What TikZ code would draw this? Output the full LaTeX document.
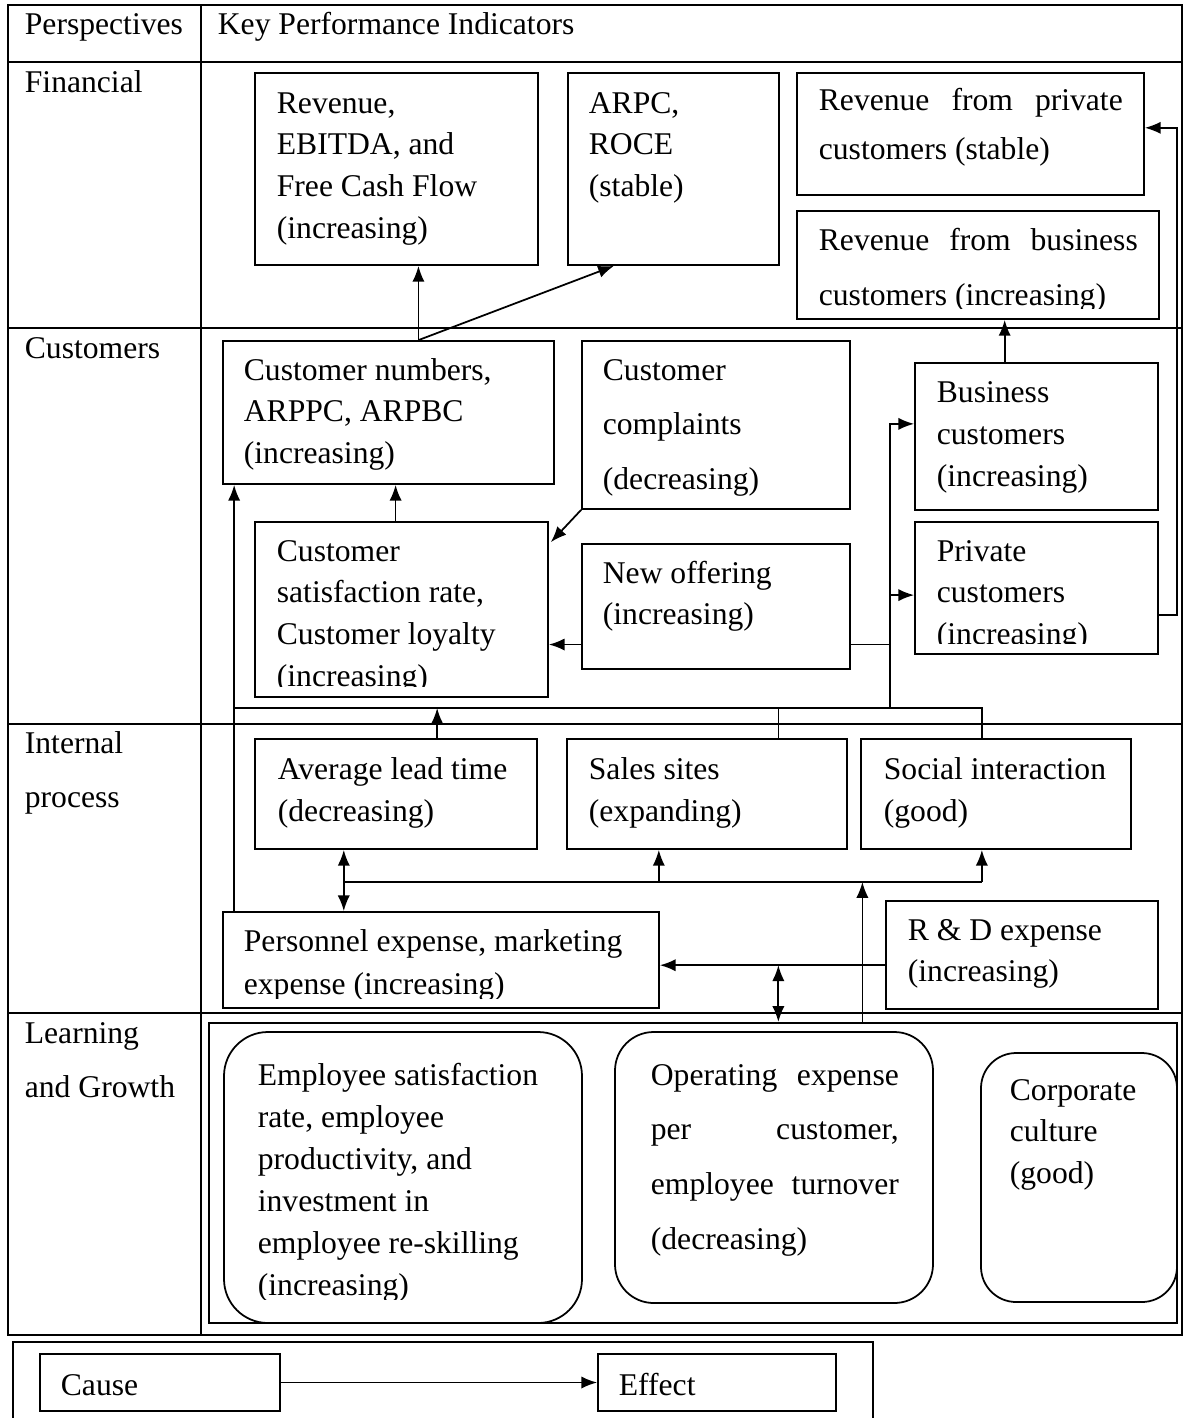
\documentclass[tikz,border=0pt]{standalone}
\usepackage{fontspec}
\setmainfont{Liberation Serif}
\usetikzlibrary{arrows.meta,positioning,calc,fit}

\newcommand{\jline}[1]{\makebox[\hsize][s]{#1}}

\begin{document}
\begin{tikzpicture}[x=0.02cm, y=-0.02cm, >={Latex[length=9pt,width=7pt]}, line width=1pt]
  % Styles
  \tikzset{
    grid/.style={line width=1.6pt},
    kbox/.style={draw, rectangle, inner sep=0pt, line width=1pt},
    rbox/.style={kbox, rounded corners=#1},
    kpi/.style={anchor=base west, inner sep=0pt, text width=8cm, align=flush left,
      font=\fontsize{18pt}{#1}\selectfont},
    kpi/.default=23.8pt
  }
  \useasboundingbox (0,0) rectangle (1185,1418);

  % Table
  \draw[grid] (8,5) rectangle (1182,1335);
  \draw[grid] (201,5) -- (201,1335);
  \foreach \y in {62,328,724,1013}
    \draw[grid] (8,\y) -- (1182,\y);

  % Headings
  \node[kpi] (h-persp) at (24,34) {Perspectives};
  \node[kpi] (h-kpi) at (217,34) {Key Performance Indicators};
  \node[kpi] (l-fin) at (24,92) {Financial};
  \node[kpi] (l-cus) at (24,358) {Customers};
  \node[kpi=31.2pt] (l-int) at (24,753) {Internal\\process};
  \node[kpi=31.2pt] (l-lrn) at (24,1043) {Learning\\and Growth};

  % Financial
  \node[kbox, fit={(255,73) (538,265)}] (rev) {};
  \node[kpi] (rev-t) at (276,113) {Revenue,\\EBITDA, and\\Free Cash Flow\\(increasing)};
  \node[kbox, fit={(568,73) (779,265)}] (arpc) {};
  \node[kpi] (arpc-t) at (588,113) {ARPC,\\ROCE\\(stable)};
  \node[kbox, fit={(797,73) (1144,195)}] (rpriv) {};
  \node[kpi=28.3pt, text width=6.08cm] (rpriv-t) at (818,110) {\jline{Revenue from private}\\customers (stable)};
  \node[kbox, fit={(797,211) (1159,319)}] (rbus) {};
  \begin{scope}
    \clip (0,0) rectangle (1185,308);
    \node[kpi=31.7pt, text width=6.38cm] (rbus-t) at (818,250) {\jline{Revenue from business}\\customers (increasing)};
  \end{scope}

  % Customers
  \node[kbox, fit={(223,341) (554,484)}] (cnum) {};
  \node[kpi] (cnum-t) at (243,380) {Customer numbers,\\ARPPC, ARPBC\\(increasing)};
  \node[kbox, fit={(582,341) (850,509)}] (comp) {};
  \node[kpi=31.2pt] (comp-t) at (602,380) {Customer\\complaints\\(decreasing)};
  \node[kbox, fit={(915,363) (1158,510)}] (bcus) {};
  \node[kpi=24.1pt] (bcus-t) at (936,402) {Business\\customers\\(increasing)};
  \node[kbox, fit={(255,522) (548,697)}] (sat) {};
  \begin{scope}
    \clip (0,0) rectangle (1185,686);
    \node[kpi] (sat-t) at (276,561) {Customer\\satisfaction rate,\\Customer loyalty\\(increasing)};
  \end{scope}
  \node[kbox, fit={(582,544) (850,669)}] (newoff) {};
  \node[kpi] (newoff-t) at (602,583) {New offering\\(increasing)};
  \node[kbox, fit={(915,522) (1158,654)}] (pcus) {};
  \begin{scope}
    \clip (0,0) rectangle (1185,643);
    \node[kpi] (pcus-t) at (936,561) {Private\\customers\\(increasing)};
  \end{scope}

  % Internal process
  \node[kbox, fit={(255,739) (537,849)}] (avg) {};
  \node[kpi=24.4pt] (avg-t) at (277,779) {Average lead time\\(decreasing)};
  \node[kbox, fit={(567,739) (847,849)}] (sales) {};
  \node[kpi=24.4pt] (sales-t) at (588,779) {Sales sites\\(expanding)};
  \node[kbox, fit={(861,739) (1131,849)}] (social) {};
  \node[kpi=24.4pt] (social-t) at (883,779) {Social interaction\\(good)};
  \node[kbox, fit={(223,912) (659,1008)}] (pers) {};
  \begin{scope}
    \clip (0,0) rectangle (1185,998);
    \node[kpi=24.9pt] (pers-t) at (243,951) {Personnel expense, marketing\\expense (increasing)};
  \end{scope}
  \node[kbox, fit={(886,901) (1158,1009)}] (rnd) {};
  \node[kpi] (rnd-t) at (907,940) {R \& D expense\\(increasing)};

  % Learning and Growth
  \node[kbox, line width=1.2pt, fit={(209,1023) (1177,1323)}] (learn) {};
  \node[rbox=25pt, fit={(224,1032) (582,1323)}] (emp) {};
  \begin{scope}
    \clip (0,0) rectangle (1185,1299);
    \node[kpi=24pt] (emp-t) at (257,1085) {Employee satisfaction\\rate, employee\\productivity, and\\investment in\\employee re-skilling\\(increasing)};
  \end{scope}
  \node[rbox=22pt, fit={(615,1032) (933,1303)}] (opex) {};
  \node[kpi=31.2pt, text width=4.96cm] (opex-t) at (650,1085) {\jline{Operating expense}\\\jline{per customer,}\\\jline{employee turnover}\\(decreasing)};
  \node[rbox=20pt, fit={(981,1053) (1177,1302)}] (corp) {};
  \node[kpi] (corp-t) at (1009,1100) {Corporate\\culture\\(good)};

  % Legend
  \node[kbox, line width=1.6pt, fit={(13,1342) (873,1440)}] (legend) {};
  \node[kbox, fit={(40,1354) (280,1411)}] (cause) {};
  \node[kpi] (cause-t) at (60,1395) {Cause};
  \node[kbox, fit={(598,1354) (836,1411)}] (effect) {};
  \node[kpi] (effect-t) at (618,1395) {Effect};

  % Junction points
  \coordinate (cn-a) at ($(cnum.north west)!0.59!(cnum.north east)$);
  \coordinate (bc-n) at ($(bcus.north west)!0.37!(bcus.north east)$);
  \coordinate (sa-up) at ($(sat.north west)!0.48!(sat.north east)$);
  \coordinate (no-w) at ($(newoff.south west)!0.2!(newoff.north west)$);
  \coordinate (no-e) at ($(newoff.south east)!0.2!(newoff.north east)$);
  \coordinate (bc-w) at ($(bcus.north west)!0.415!(bcus.south west)$);
  \coordinate (pc-w) at ($(pcus.north west)!0.553!(pcus.south west)$);
  \coordinate (pc-e) at ($(pcus.north east)!0.70!(pcus.south east)$);
  \coordinate (rp-e) at ($(rpriv.north east)!0.45!(rpriv.south east)$);
  \coordinate (vb) at (890,708);
  \coordinate (b2) at (862,882);
  \coordinate (pe-n) at ($(pers.north west)!0.0275!(pers.north east)$);
  \coordinate (av-n) at ($(avg.north west)!0.645!(avg.north east)$);
  \coordinate (av-s) at ($(avg.south west)!0.316!(avg.south east)$);
  \coordinate (sl-n) at ($(sales.north west)!0.754!(sales.north east)$);
  \coordinate (sl-s) at ($(sales.south west)!0.329!(sales.south east)$);
  \coordinate (so-n) at ($(social.north west)!0.448!(social.north east)$);
  \coordinate (so-s) at ($(social.south west)!0.448!(social.south east)$);
  \coordinate (rd-w) at ($(rnd.north west)!0.593!(rnd.south west)$);
  \coordinate (ln-a) at ($(learn.north west)!0.6746!(learn.north east)$);
  \coordinate (ln-b) at ($(learn.north west)!0.588!(learn.north east)$);

  % Connections
  \draw[->] (cn-a) -- (cn-a |- rev.south);
  \draw[->] (cn-a) -- ($(arpc.south west)!0.22!(arpc.south east)$);
  \draw[->] (bc-n) -- (bc-n |- rbus.south);
  \draw[->] (sa-up) -- (sa-up |- cnum.south);
  \draw[->] (comp.south west) -- ($(sat.north east)+(2,21)$);
  \draw[->] (no-w) -- (no-w -| sat.east);
  \draw (no-e) -| (vb);
  \draw[->] (vb) |- (bc-w);
  \draw[->] (vb |- pc-w) -- (pc-w);
  \draw[->] (pc-e) -- ++(18,0) |- (rp-e);
  \draw[->] (pe-n) -- (pe-n |- cnum.south);
  \draw (pe-n |- vb) -- (vb -| so-n) -- (so-n);
  \draw (sl-n) -- (sl-n |- vb);
  \draw[->] (av-n) -- (av-n |- vb);
  \draw[<->] (av-s) -- (av-s |- pers.north);
  \draw (av-s |- b2) -- (b2 -| so-s);
  \draw[->] (b2 -| sl-s) -- (sl-s);
  \draw[->] (b2 -| so-s) -- (so-s);
  \draw[->] (ln-a) -- (ln-a |- b2);
  \draw[->] (rd-w) -- (rd-w -| pers.east);
  \draw[<->] (rd-w -| ln-b) -- (ln-b);
  \draw[->] (cause.east) -- (effect.west);

\end{tikzpicture}
\end{document}
